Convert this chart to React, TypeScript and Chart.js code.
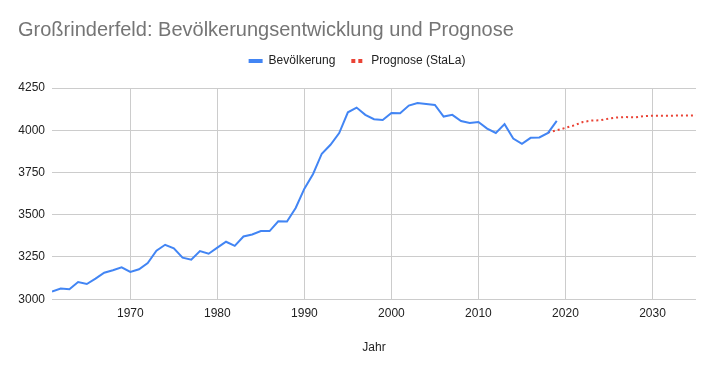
import React, { useEffect, useRef } from 'react';
import { Chart, registerables } from 'chart.js';

Chart.register(...registerables);

const chartTitle = 'Großrinderfeld: Bevölkerungsentwicklung und Prognose';
const xAxisTitle = 'Jahr';
const seriesNames = ['Bevölkerung', 'Prognose (StaLa)'];

const popYears = [
  1961, 1962, 1963, 1964, 1965, 1966, 1967, 1968, 1969, 1970,
  1971, 1972, 1973, 1974, 1975, 1976, 1977, 1978, 1979, 1980,
  1981, 1982, 1983, 1984, 1985, 1986, 1987, 1988, 1989, 1990,
  1991, 1992, 1993, 1994, 1995, 1996, 1997, 1998, 1999, 2000,
  2001, 2002, 2003, 2004, 2005, 2006, 2007, 2008, 2009, 2010,
  2011, 2012, 2013, 2014, 2015, 2016, 2017, 2018, 2019,
];
const popValues = [
  3045, 3063, 3059, 3102, 3090, 3122, 3157, 3171, 3189, 3161,
  3177, 3214, 3287, 3322, 3301, 3246, 3234, 3285, 3269, 3305,
  3340, 3316, 3371, 3383, 3403, 3403, 3461, 3460, 3540, 3654,
  3741, 3861, 3914, 3983, 4106, 4134, 4091, 4065, 4061, 4102,
  4100, 4146, 4161, 4155, 4150, 4081, 4091, 4055, 4043, 4049,
  4010, 3984, 4036, 3951, 3920, 3955, 3957, 3984, 4055,
];

const progYears = [
  2018, 2019, 2020, 2021, 2022, 2023, 2024, 2025, 2026,
  2027, 2028, 2029, 2030, 2031, 2032, 2033, 2034, 2035,
];
const progValues = [
  3986, 4000, 4014, 4029, 4049, 4057, 4059, 4069, 4076,
  4078, 4076, 4084, 4086, 4086, 4086, 4087, 4087, 4088,
];

const xTickValues = [1970, 1980, 1990, 2000, 2010, 2020, 2030];
const yTickValues = [3000, 3250, 3500, 3750, 4000, 4250];

const FONT = '"Liberation Sans", Arial, sans-serif';
const BLUE = '#4285F4';
const RED = '#EA4335';

export default function App() {
  const ref = useRef<HTMLCanvasElement>(null);

  useEffect(() => {
    document.body.style.margin = '0';
    if (!ref.current) return;
    Chart.defaults.font.family = FONT;

    const legendSpacer = {
      id: 'legendSpacer',
      beforeInit(chart: any) {
        const legend = chart.legend;
        if (!legend) return;
        const orig = legend.fit;
        legend.fit = function () {
          orig.call(this);
          this.height += 11;
        };
      },
    };

    const chart = new Chart(ref.current, {
      type: 'line',
      data: {
        datasets: [
          {
            label: seriesNames[0],
            data: popYears.map((y, i) => ({ x: y, y: popValues[i] })),
            borderColor: BLUE,
            backgroundColor: BLUE,
            borderWidth: 2,
            pointRadius: 0,
            tension: 0,
          },
          {
            label: seriesNames[1],
            data: progYears.map((y, i) => ({ x: y, y: progValues[i] })),
            borderColor: RED,
            backgroundColor: RED,
            borderWidth: 2,
            borderDash: [2, 3],
            pointRadius: 0,
            tension: 0,
          },
        ],
      },
      options: {
        responsive: false,
        animation: false,
        layout: { padding: { top: 8, left: 18, right: 19, bottom: 12 } },
        plugins: {
          title: {
            display: true,
            text: chartTitle,
            align: 'start',
            color: '#757575',
            font: { size: 20, weight: 'normal', family: FONT },
            padding: { top: 10, bottom: -3 },
          },
          legend: {
            display: true,
            labels: {
              usePointStyle: true,
              pointStyleWidth: 14,
              boxHeight: 12,
              padding: 16,
              color: '#222222',
              font: { size: 12, family: FONT },
              generateLabels: (c: any) =>
                c.data.datasets.map((ds: any, i: number) => ({
                  text: ds.label,
                  fillStyle: ds.borderColor,
                  strokeStyle: ds.borderColor,
                  lineWidth: 4,
                  lineDash: i === 1 ? [4, 3] : [],
                  pointStyle: 'line',
                  hidden: false,
                  datasetIndex: i,
                  fontColor: '#222222',
                })),
            },
          },
          tooltip: { enabled: false },
        },
        scales: {
          x: {
            type: 'linear',
            min: 1961,
            max: 2035,
            afterBuildTicks: (axis: any) => {
              axis.ticks = xTickValues.map((v) => ({ value: v }));
            },
            ticks: {
              padding: 7,
              color: '#222222',
              font: { size: 12, family: FONT },
              maxRotation: 0,
              callback: (v: any) => String(v),
            },
            grid: { color: '#cccccc', drawTicks: false },
            border: { display: false },
            title: {
              display: true,
              text: xAxisTitle,
              color: '#222222',
              font: { size: 12, family: FONT },
              padding: { top: 13, bottom: 4 },
            },
          },
          y: {
            type: 'linear',
            min: 3000,
            max: 4250,
            afterBuildTicks: (axis: any) => {
              axis.ticks = yTickValues.map((v) => ({ value: v }));
            },
            afterFit: (axis: any) => {
              axis.width = 34;
            },
            ticks: {
              padding: 7,
              color: '#222222',
              font: { size: 12, family: FONT },
              callback: (v: any) => String(v),
            },
            grid: { color: '#cccccc', drawTicks: false },
            border: { display: false },
          },
        },
      },
      plugins: [legendSpacer],
    } as any);

    return () => chart.destroy();
  }, []);

  return (
    <div style={{ width: 715, height: 371 }}>
      <canvas ref={ref} width={715} height={371} style={{ display: 'block' }} />
    </div>
  );
}
